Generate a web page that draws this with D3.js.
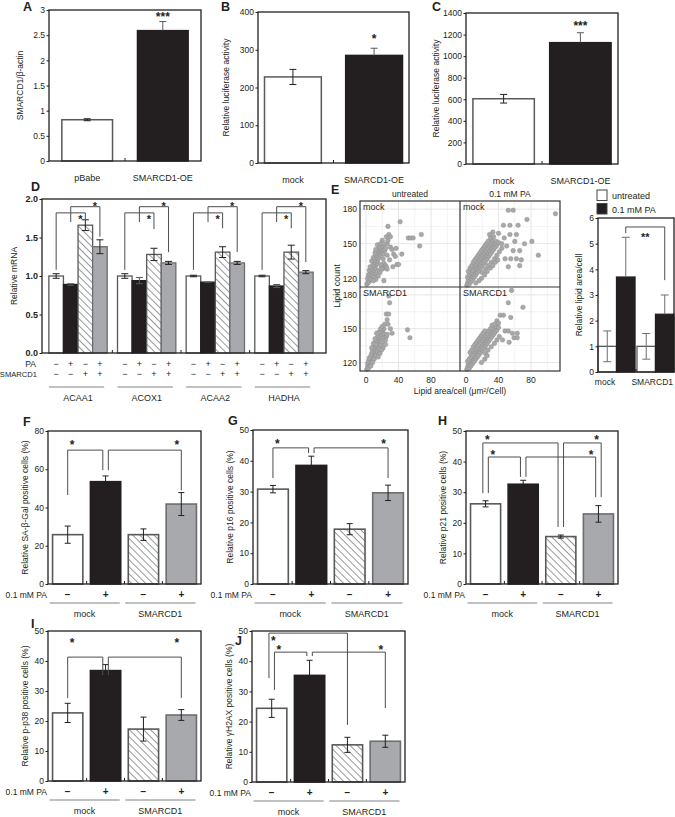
<!DOCTYPE html>
<html><head><meta charset="utf-8">
<script src="https://d3js.org/d3.v7.min.js"></script>
<style>
body{margin:0;background:#fff}
svg text{font-family:"Liberation Sans",Arial,Helvetica,sans-serif;fill:#231f20}
</style></head>
<body><svg id="fig" width="675" height="817"></svg>
<script>
// ================= DATA =================
// A
const aCats = ["pBabe", "SMARCD1-OE"];
const aVals = [0.82, 2.59];
const aErrs = [0.02, 0.18];
const aTicks = [0, 0.5, 1, 1.5, 2, 2.5, 3];
const aSig = "***";
// B
const bCats = ["mock", "SMARCD1-OE"];
const bVals = [228, 285];
const bErrs = [20, 19];
const bTicks = [0, 100, 200, 300, 400];
const bSig = "*";
// C
const cCats = ["mock", "SMARCD1-OE"];
const cVals = [605, 1125];
const cErrs = [40, 92];
const cTicks = [0, 200, 400, 600, 800, 1000, 1200, 1400];
const cSig = "***";
// D
const dGenes = ["ACAA1", "ACOX1", "ACAA2", "HADHA"];
const dConds = ["ctrl", "PA", "SMARCD1", "SMARCD1+PA"];
const dPA = ["−", "+", "−", "+"];
const dSM = ["−", "−", "+", "+"];
const dVals = [[1.00, 0.89, 1.66, 1.38], [1.00, 0.94, 1.28, 1.17], [1.00, 0.92, 1.31, 1.17], [1.00, 0.87, 1.31, 1.05]];
const dErrs = [[0.03, 0.01, 0.07, 0.09], [0.03, 0.04, 0.08, 0.02], [0.01, 0.00, 0.07, 0.02], [0.01, 0.02, 0.09, 0.02]];
const dTicks = [0, 0.5, 1, 1.5, 2];
// comparisons: [from cond, to cond, bracket level, from-leg end, to-leg end]
const dBrackets = [
  [[0, 2, 1.82, 1.08, 1.74], [1, 3, 1.90, 1.70, 1.51]],
  [[0, 2, 1.82, 1.08, 1.61], [1, 3, 1.90, 1.70, 1.31]],
  [[0, 2, 1.82, 1.08, 1.62], [1, 3, 1.90, 1.70, 1.31]],
  [[0, 2, 1.82, 1.08, 1.62], [1, 3, 1.90, 1.70, 1.18]]
];
// E scatter (lipid area/cell, lipid count)
const eCols = ["untreated", "0.1 mM PA"];
const eRows = ["mock", "SMARCD1"];
const eMockUntreated = [
 [1,115],[2,116],[3,118],[4,117],[5,119],[2,120],[4,121],[6,120],[7,122],[3,123],[5,124],[8,123],[9,125],[6,126],[10,127],[4,127],[7,128],[11,129],[8,130],[12,131],[5,130],[9,132],[13,133],[10,134],[14,135],[7,135],[11,136],[15,137],[12,138],[16,139],[9,138],[13,140],[17,141],[14,142],[18,143],[11,142],[15,144],[19,145],[16,146],[12,145],[17,147],[20,148],[14,149],[18,150],[21,137],[22,133],[19,130],[16,127],[13,124],[10,121],[20,128],[23,129],[24,131],[25,130],[26,128],[17,125],[15,122],[12,119],[9,118],[22,118],[18,132],[21,141],[23,144],[24,146],[26,150],[27,153],[25,156],[28,158],[30,147],[32,145],[34,141],[36,139],[38,132],[40,132],[33,130],[29,136],[26,140],[20,153],[22,150],
 [27,165],[42,169],[68,158],[66,148],[52,155],[55,155],[58,155],[30,156],[44,141],[37,146]
];
const eMockPA = [
 [1,114],[2,116],[4,115],[3,118],[6,117],[5,120],[8,119],[2,121],[7,122],[10,121],[4,123],[9,124],[12,123],[6,125],[11,126],[14,125],[3,126],[8,127],[13,128],[16,127],[5,129],[10,130],[15,130],[18,129],[7,131],[12,132],[17,132],[20,131],[9,134],[14,134],[19,134],[22,133],[11,136],[16,136],[21,136],[24,135],[13,138],[18,138],[23,138],[26,137],[15,140],[20,140],[25,140],[28,139],[17,142],[22,142],[27,142],[30,141],[19,144],[24,144],[29,144],[32,143],[21,146],[26,146],[31,146],[34,145],[23,148],[28,148],[33,148],[36,147],[25,150],[30,150],[35,150],[38,149],[27,152],[32,153],[37,152],[40,151],[30,155],[34,156],[29,158],[33,160],[20,125],[24,128],[27,131],[31,134],[35,137],[38,140],[41,143],[44,146],[19,120],[23,123],[26,126],[30,129],[33,131],[36,134],[39,136],[16,118],[12,116],
 [52,179],[58,179],[75,171],[110,176],[46,166],[54,166],[64,166],[40,159],[54,158],[62,158],[81,152],[58,144],[66,144],[48,137],[55,137],[62,137],[68,136],[89,140],[44,150],[50,148],[72,150],[60,152],[47,155],[66,131],[52,130]
];
const eSmUntreated = [
 [1,114],[2,116],[3,115],[4,118],[2,119],[5,120],[6,119],[3,121],[7,122],[5,123],[8,124],[4,124],[9,126],[6,126],[10,127],[7,128],[11,129],[8,130],[12,131],[9,132],[13,133],[10,134],[14,135],[11,136],[15,137],[12,138],[16,139],[13,140],[17,141],[14,142],[18,143],[15,144],[19,145],[20,147],[16,147],[21,149],[22,142],[20,138],[18,135],[16,132],[14,129],[12,126],[10,123],[8,120],[6,117],[23,145],[24,140],[25,143],[26,145],[21,133],[19,131],[17,128],[15,125],[24,136],[22,150],[18,150],[13,146],[11,141],[9,137],[7,133],[20,152],[12,136],
 [28,179],[29,173],[25,163],[28,163],[23,154],[27,154],[51,149],[54,142],[30,150],[32,146],[26,158]
];
const eSmPA = [
 [1,114],[2,116],[4,115],[3,118],[6,117],[5,120],[8,119],[2,121],[7,122],[10,121],[4,123],[9,124],[12,123],[6,125],[11,126],[14,125],[8,127],[13,128],[16,127],[5,129],[10,130],[15,130],[18,129],[7,131],[12,132],[17,132],[20,131],[9,134],[14,134],[19,134],[22,133],[11,136],[16,136],[21,136],[24,135],[13,138],[18,138],[23,138],[26,137],[15,140],[20,140],[25,140],[28,139],[17,142],[22,142],[27,142],[30,141],[19,144],[24,144],[29,144],[32,143],[21,146],[26,146],[31,146],[34,145],[23,148],[28,148],[33,148],[36,147],[30,150],[35,150],[38,149],[32,153],[37,152],[40,151],[24,128],[27,131],[31,134],[35,137],[38,140],[41,143],[19,120],[23,123],[26,126],
 [56,184],[52,173],[70,169],[42,162],[46,162],[38,157],[55,160],[48,148],[52,148],[57,146],[63,146],[59,142],[63,142],[53,138],[45,140],[40,155],[35,154]
];
// E bars
const eBarGroups = ["mock", "SMARCD1"];
const eBarSeries = ["untreated", "0.1 mM PA"];
const eBarVals = [[1.0, 3.7], [1.0, 2.25]];
const eBarErrs = [[0.6, 1.55], [0.5, 0.75]];
const eBarTicks = [0, 1, 2, 3, 4, 5, 6];
const eBarBracket = [[0, 1], [1, 1], 5.65, 5.41, 3.58, "**"];
// F–J
const fjConds = ["mock −", "mock +", "SMARCD1 −", "SMARCD1 +"];
const fjPA = ["−", "+", "−", "+"];
const fjGroups = ["mock", "SMARCD1"];
const fVals = [25.8, 53.5, 25.8, 41.8], fErrs = [4.5, 3.0, 3.0, 6.0];
const gVals = [30.8, 38.5, 17.8, 29.6], gErrs = [1.2, 3.0, 1.8, 2.5];
const hVals = [26.2, 32.6, 15.5, 22.9], hErrs = [1.0, 1.3, 0.5, 2.7];
const iVals = [22.7, 36.8, 17.3, 22.0], iErrs = [3.2, 2.0, 4.0, 1.8];
const jVals = [24.4, 35.3, 12.3, 13.5], jErrs = [3.0, 5.0, 2.5, 2.0];
const fTicks = [0, 20, 40, 60, 80];
const pTicks = [0, 10, 20, 30, 40, 50];
// comparisons: [from, to, level, from-leg end, to-leg end]
const fBr = [[0, 1, 70, 46.5, 59.5], [1, 3, 70, 59.5, 49]];
const gBr = [[0, 1, 44.2, 34.4, 42.5], [1, 3, 44.2, 42.5, 34.4]];
const hBr = [[0, 2, 46.1, 29.7, 18.6], [0, 1, 41.5, 29.7, 35], [1, 3, 41.5, 35, 28.4], [2, 3, 46.1, 18.6, 28.4]];
const iBr = [[0, 1, 41.3, 27.7, 35.3], [1, 3, 41.3, 35.3, 27.7]];
const jBr = [[0, 2, 49.3, 34.4, 18.9], [0, 1, 43, 30.5, 41.7], [1, 3, 43, 41.7, 24.5]];

// ================= DRAW =================
const svg = d3.select("#fig");
const INK = "#231f20";
const STYLE = {
  white: {fill: "#ffffff", stroke: "#58595b"},
  black: {fill: "#231f20", stroke: "#231f20"},
  hatch: {fill: "url(#hatch)", stroke: "#58595b"},
  gray:  {fill: "#a7a9ac", stroke: "#6d6e71"}
};
const fourStyles = ["white", "black", "hatch", "gray"];
const defs = svg.append("defs");
const pat = defs.append("pattern").attr("id", "hatch").attr("patternUnits", "userSpaceOnUse")
  .attr("width", 5).attr("height", 5).attr("patternTransform", "rotate(-45)");
pat.append("rect").attr("width", 5).attr("height", 5).attr("fill", "#fff");
pat.append("line").attr("x1", 0.5).attr("y1", 0).attr("x2", 0.5).attr("y2", 5).attr("stroke", "#8a8c8e").attr("stroke-width", 0.9);

function txt(g, x, y, s, o = {}) {
  const t = g.append("text").attr("x", x).attr("y", y).text(s)
    .attr("font-size", o.size || 9).attr("text-anchor", o.anchor || "start");
  if (o.bold) t.attr("font-weight", "bold");
  if (o.rot) t.attr("transform", `rotate(-90,${x},${y})`);
  return t;
}
function letter(s, x, y) { txt(svg, x, y, s, {size: 12.5, bold: true}); }
function frame(g, b) {
  g.append("rect").attr("x", b[0]).attr("y", b[1]).attr("width", b[2] - b[0]).attr("height", b[3] - b[1])
    .attr("fill", "none").attr("stroke", INK).attr("stroke-width", 1.3);
}
function yAxis(g, y, x0, ticks, size, bold) {
  const a = g.append("g").attr("transform", `translate(${x0},0)`)
    .call(d3.axisLeft(y).tickValues(ticks).tickFormat(d => bold ? d3.format(".1f")(d) : String(d)).tickSize(2.5).tickPadding(1.5));
  a.select(".domain").remove();
  a.selectAll("line").attr("stroke", INK);
  a.selectAll("text").attr("font-size", size).attr("font-weight", bold ? "bold" : null);
}
function errBar(g, cx, y, v, e, color, cap, upOnly) {
  const lo = upOnly ? v : v - e, hi = v + e;
  g.append("line").attr("x1", cx).attr("x2", cx).attr("y1", y(lo)).attr("y2", y(hi)).attr("stroke", color).attr("stroke-width", 1);
  g.append("line").attr("x1", cx - cap).attr("x2", cx + cap).attr("y1", y(hi)).attr("y2", y(hi)).attr("stroke", color).attr("stroke-width", 1);
  if (!upOnly) g.append("line").attr("x1", cx - cap).attr("x2", cx + cap).attr("y1", y(lo)).attr("y2", y(lo)).attr("stroke", color).attr("stroke-width", 1);
}
function bracket(g, xa, xb, yTop, yA, yB) {
  g.append("path").attr("d", `M${xa},${yA}V${yTop}H${xb}V${yB}`).attr("fill", "none")
    .attr("stroke", "#4d4d4f").attr("stroke-width", 1);
}
function star(g, x, yc, s, size = 12) { txt(g, x, yc + size * 0.58, s, {size, anchor: "middle", bold: true}); }
// leg x positions for brackets that share bars
function legX(brs, centers, gap) {
  const legs = {};
  brs.forEach((b, i) => {
    (legs[b[0]] = legs[b[0]] || []).push({i, end: 0, dir: 1, top: b[2]});
    (legs[b[1]] = legs[b[1]] || []).push({i, end: 1, dir: -1, top: b[2]});
  });
  const res = brs.map(() => [0, 0]);
  Object.keys(legs).forEach(bar => {
    const L = legs[bar];
    L.sort((p, q) => p.dir !== q.dir ? p.dir - q.dir : (p.dir > 0 ? q.top - p.top : p.top - q.top));
    L.forEach((l, k) => { res[l.i][l.end] = centers[bar] + (k - (L.length - 1) / 2) * gap; });
  });
  return res;
}

// ---------- A, B, C ----------
function twoBar(cfg) {
  const g = svg.append("g");
  const [x0, y0, x1, y1] = cfg.box;
  const y = d3.scaleLinear().domain([0, cfg.max]).range([y1, y0]);
  const x = d3.scaleBand().domain(cfg.cats).range([x0, x1]).paddingInner(cfg.pi).paddingOuter(cfg.po);
  const bw = x.bandwidth();
  const st = ["white", "black"];
  g.selectAll("rect.bar").data(cfg.cats).join("rect").attr("class", "bar")
    .attr("x", c => x(c)).attr("width", bw)
    .attr("y", (c, i) => y(cfg.vals[i])).attr("height", (c, i) => y(0) - y(cfg.vals[i]))
    .attr("fill", (c, i) => STYLE[st[i]].fill).attr("stroke", (c, i) => STYLE[st[i]].stroke).attr("stroke-width", 1.5);
  cfg.vals.forEach((v, i) => errBar(g, x(cfg.cats[i]) + bw / 2, y, v, cfg.errs[i], i === 0 ? INK : "#58595b", 3.5, i === 1));
  frame(g, cfg.box);
  const mid = (x(cfg.cats[0]) + bw + x(cfg.cats[1])) / 2;
  g.append("line").attr("x1", mid).attr("x2", mid).attr("y1", y1).attr("y2", y1 - 3).attr("stroke", INK);
  yAxis(g, y, x0, cfg.ticks, 8.5, false);
  cfg.cats.forEach(c => txt(g, x(c) + bw / 2, y1 + 20, c, {size: 9, anchor: "middle"}));
  star(g, x(cfg.cats[1]) + bw / 2, y(cfg.vals[1] + cfg.errs[1]) - cfg.sdy, cfg.sig);
  txt(g, cfg.lx, (y0 + y1) / 2, cfg.label, {size: 8.5, anchor: "middle", rot: true});
}
twoBar({box: [49, 10, 201, 161], max: 3, cats: aCats, vals: aVals, errs: aErrs, ticks: aTicks, pi: 0.33, po: 0.17, sig: aSig, sdy: 8, label: "SMARCD1/β-actin", lx: 23});
twoBar({box: [258, 12, 409, 163], max: 400, cats: bCats, vals: bVals, errs: bErrs, ticks: bTicks, pi: 0.3, po: 0.08, sig: bSig, sdy: 12, label: "Relative luciferase activity", lx: 229});
twoBar({box: [466, 13, 618, 164], max: 1400, cats: cCats, vals: cVals, errs: cErrs, ticks: cTicks, pi: 0.2, po: 0.09, sig: cSig, sdy: 10, label: "Relative luciferase activity", lx: 439});
letter("A", 23, 11); letter("B", 221, 11); letter("C", 432, 10.5);

// ---------- D ----------
(function () {
  const g = svg.append("g");
  const box = [42, 199, 326, 353];
  const y = d3.scaleLinear().domain([0, 2]).range([box[3], box[1]]);
  const xg = d3.scaleBand().domain(dGenes).range([42, 320]).paddingInner(0.15).paddingOuter(0.1);
  const xc = d3.scaleBand().domain(dConds).range([0, xg.bandwidth()]);
  const bw = xc.bandwidth();
  dGenes.forEach((gene, gi) => {
    const gg = g.append("g");
    gg.selectAll("rect").data(dConds).join("rect")
      .attr("x", c => xg(gene) + xc(c)).attr("width", bw)
      .attr("y", (c, i) => y(dVals[gi][i])).attr("height", (c, i) => y(0) - y(dVals[gi][i]))
      .attr("fill", (c, i) => STYLE[fourStyles[i]].fill).attr("stroke", (c, i) => STYLE[fourStyles[i]].stroke).attr("stroke-width", 1.3);
    const centers = dConds.map(c => xg(gene) + xc(c) + bw / 2);
    dVals[gi].forEach((v, i) => errBar(gg, centers[i], y, v, dErrs[gi][i], i === 1 ? "#58595b" : INK, 3.5, false));
    const lx = legX(dBrackets[gi], centers, 5);
    dBrackets[gi].forEach((b, k) => {
      bracket(gg, lx[k][0], lx[k][1], y(b[2]), y(b[3]), y(b[4]));
      star(gg, lx[k][1] - 5, y(b[2]) + (k === 0 ? 4 : -3), "*", 11);
    });
    centers.forEach((cx, i) => {
      txt(gg, cx, 367, dPA[i], {size: 9, anchor: "middle"});
      txt(gg, cx, 377, dSM[i], {size: 9, anchor: "middle"});
    });
    gg.append("line").attr("x1", xg(gene)).attr("x2", xg(gene) + xg.bandwidth() - 3).attr("y1", 387).attr("y2", 387)
      .attr("stroke", "#808285").attr("stroke-width", 1.2);
    txt(gg, xg(gene) + xg.bandwidth() / 2, 401, gene, {size: 9, anchor: "middle"});
    if (gi > 0) {
      const sx = (xg(dGenes[gi - 1]) + xg.bandwidth() + xg(gene)) / 2;
      g.append("line").attr("x1", sx).attr("x2", sx).attr("y1", box[3]).attr("y2", box[3] - 3).attr("stroke", INK);
    }
  });
  frame(g, box);
  yAxis(g, y, box[0], dTicks, 9, true);
  txt(g, 36, 367, "PA", {size: 8.5, anchor: "end"});
  txt(g, 37, 377, "SMARCD1", {size: 7.6, anchor: "end"});
  txt(g, 17, 276, "Relative mRNA", {size: 8.5, anchor: "middle", rot: true});
  letter("D", 31, 191);
})();

// ---------- E scatter ----------
(function () {
  const g = svg.append("g");
  const colR = [[360, 460], [460, 560]];
  const rowR = [[287, 201], [371, 287]];
  const data = [[eMockUntreated, eMockPA], [eSmUntreated, eSmPA]];
  data.forEach((row, ri) => row.forEach((pts, ci) => {
    const x = d3.scaleLinear().domain([-7.4, 115.6]).range(colR[ci]);
    const y = d3.scaleLinear().domain([112.5, 187]).range(rowR[ri]);
    const p = g.append("g");
    [20, 60, 100].forEach(v => p.append("line").attr("x1", x(v)).attr("x2", x(v)).attr("y1", rowR[ri][0]).attr("y2", rowR[ri][1]).attr("stroke", "#f3f3f3"));
    [135, 165].forEach(v => p.append("line").attr("y1", y(v)).attr("y2", y(v)).attr("x1", colR[ci][0]).attr("x2", colR[ci][1]).attr("stroke", "#f3f3f3"));
    [0, 40, 80].forEach(v => p.append("line").attr("x1", x(v)).attr("x2", x(v)).attr("y1", rowR[ri][0]).attr("y2", rowR[ri][1]).attr("stroke", "#e6e6e6"));
    [120, 150, 180].forEach(v => p.append("line").attr("y1", y(v)).attr("y2", y(v)).attr("x1", colR[ci][0]).attr("x2", colR[ci][1]).attr("stroke", "#e6e6e6"));
    p.selectAll("circle").data(pts).join("circle")
      .attr("cx", d => x(d[0])).attr("cy", d => y(d[1])).attr("r", 2.3)
      .attr("fill", "#a8a8a8").attr("stroke", "#8c8c8c").attr("stroke-width", 0.4);
    txt(p, colR[ci][0] + 3, rowR[ri][1] + 9, eRows[ri], {size: 9});
    if (ci === 0) [120, 150, 180].forEach(v => txt(p, 357, y(v) + 3.3, String(v), {size: 8.5, anchor: "end"}));
    if (ri === 1) [0, 40, 80].forEach(v => txt(p, x(v), 383, String(v), {size: 8.5, anchor: "middle"}));
    if (ri === 0) txt(p, (colR[ci][0] + colR[ci][1]) / 2, 197, eCols[ci], {size: 8.5, anchor: "middle"});
  }));
  g.append("rect").attr("x", 360).attr("y", 201).attr("width", 200).attr("height", 170).attr("fill", "none").attr("stroke", "#333").attr("stroke-width", 1.2);
  g.append("line").attr("x1", 460).attr("x2", 460).attr("y1", 201).attr("y2", 371).attr("stroke", "#333").attr("stroke-width", 1.2);
  g.append("line").attr("x1", 360).attr("x2", 560).attr("y1", 287).attr("y2", 287).attr("stroke", "#333").attr("stroke-width", 1.2);
  txt(g, 340, 286, "Lipid count", {size: 9, anchor: "middle", rot: true});
  txt(g, 460, 394, "Lipid area/cell (μm²/Cell)", {size: 8.5, anchor: "middle"});
  letter("E", 331, 194);
})();

// ---------- E bars ----------
(function () {
  const g = svg.append("g");
  const box = [598, 218, 674, 372];
  const y = d3.scaleLinear().domain([0, 6]).range([box[3], box[1]]);
  const xg = d3.scaleBand().domain(eBarGroups).range([box[0], box[2]]).paddingInner(0.05);
  const xs = d3.scaleBand().domain(eBarSeries).range([0, xg.bandwidth()]);
  const bw = xs.bandwidth();
  const st = ["white", "black"];
  eBarGroups.forEach((grp, gi) => {
    eBarSeries.forEach((s, si) => {
      const v = eBarVals[gi][si];
      g.append("rect").attr("x", xg(grp) + xs(s)).attr("width", bw).attr("y", y(v)).attr("height", y(0) - y(v))
        .attr("fill", STYLE[st[si]].fill).attr("stroke", STYLE[st[si]].stroke).attr("stroke-width", 1.3);
      errBar(g, xg(grp) + xs(s) + bw / 2, y, v, eBarErrs[gi][si], "#6d6e71", 4, si === 1);
    });
  });
  txt(g, 605, 385, eBarGroups[0], {size: 8.5, anchor: "middle"});
  txt(g, 673, 385, eBarGroups[1], {size: 8.5, anchor: "end"});
  const b = eBarBracket;
  const xa = xg(eBarGroups[b[0][0]]) + xs(eBarSeries[b[0][1]]) + bw / 2;
  const xb = xg(eBarGroups[b[1][0]]) + xs(eBarSeries[b[1][1]]) + bw / 2;
  bracket(g, xa, xb, y(b[2]), y(b[3]), y(b[4]));
  star(g, (xa + xb) / 2, y(b[2]) + 8, b[5], 11);
  const sx = xg(eBarGroups[1]) - 1;
  g.append("line").attr("x1", sx).attr("x2", sx).attr("y1", box[3]).attr("y2", box[3] - 3).attr("stroke", INK);
  frame(g, box);
  yAxis(g, y, box[0], eBarTicks, 8.5, false);
  txt(g, 582, 295, "Relative lipid area/cell", {size: 8.5, anchor: "middle", rot: true});
  // legend
  eBarSeries.forEach((s, i) => {
    g.append("rect").attr("x", 597).attr("y", 190 + i * 13.5).attr("width", 10).attr("height", 10.5)
      .attr("fill", STYLE[st[i]].fill).attr("stroke", "#444").attr("stroke-width", 1);
    txt(g, 612, 199 + i * 13.5, s, {size: 9});
  });
})();

// ---------- F–J ----------
function fjPanel(cfg) {
  const g = svg.append("g");
  const [x0, y0, x1, y1] = cfg.box;
  const y = d3.scaleLinear().domain([0, cfg.max]).range([y1, y0]);
  const x = d3.scaleBand().domain(fjConds).range([x0, x1]).paddingInner(0.2).paddingOuter(0.12);
  const bw = x.bandwidth();
  const centers = fjConds.map(c => x(c) + bw / 2);
  g.selectAll("rect.bar").data(fjConds).join("rect").attr("class", "bar")
    .attr("x", c => x(c)).attr("width", bw)
    .attr("y", (c, i) => y(cfg.vals[i])).attr("height", (c, i) => y(0) - y(cfg.vals[i]))
    .attr("fill", (c, i) => STYLE[fourStyles[i]].fill).attr("stroke", (c, i) => STYLE[fourStyles[i]].stroke).attr("stroke-width", 1.6);
  cfg.vals.forEach((v, i) => errBar(g, centers[i], y, v, cfg.errs[i], INK, 3, false));
  frame(g, cfg.box);
  for (let i = 1; i < 4; i++) {
    const sx = (x(fjConds[i - 1]) + bw + x(fjConds[i])) / 2;
    g.append("line").attr("x1", sx).attr("x2", sx).attr("y1", y1).attr("y2", y1 - 3).attr("stroke", INK);
  }
  yAxis(g, y, x0, cfg.ticks, 8.5, false);
  const lx = legX(cfg.br, centers, 5.5);
  cfg.br.forEach((b, k) => {
    bracket(g, lx[k][0], lx[k][1], y(b[2]), y(b[3]), y(b[4]));
    const s = cfg.stars[k];
    star(g, s[0] === "a" ? lx[k][0] + 4.5 : lx[k][1] - 4.5, y(b[2]) + s[1], "*", 12);
  });
  txt(g, x0 - 1, y1 + 14, "0.1 mM PA", {size: 8.5, anchor: "end"});
  centers.forEach((cx, i) => txt(g, cx, y1 + 14, fjPA[i], {size: 10, anchor: "middle", bold: true}));
  fjGroups.forEach((grp, k) => {
    const a = x(fjConds[2 * k]) - 3, e = x(fjConds[2 * k + 1]) + bw - 1;
    g.append("line").attr("x1", a).attr("x2", e).attr("y1", y1 + 19).attr("y2", y1 + 19).attr("stroke", "#808285").attr("stroke-width", 1.2);
    txt(g, (a + e) / 2, y1 + 33, grp, {size: 9, anchor: "middle"});
  });
  txt(g, cfg.lx, (y0 + y1) / 2, cfg.label, {size: 8.5, anchor: "middle", rot: true});
  letter(cfg.letter, cfg.lp[0], cfg.lp[1]);
}
fjPanel({box: [48, 431, 201, 584], max: 80, ticks: fTicks, vals: fVals, errs: fErrs, br: fBr, stars: [["a", -8], ["b", -8]], label: "Relative SA-β-Gal positive cells (%)", lx: 28, letter: "F", lp: [23, 426]});
fjPanel({box: [253, 430, 408, 584], max: 50, ticks: pTicks, vals: gVals, errs: gErrs, br: gBr, stars: [["a", -7], ["b", -7]], label: "Relative p16 positive cells (%)", lx: 233, letter: "G", lp: [228, 425]});
fjPanel({box: [466, 431, 618, 584], max: 50, ticks: pTicks, vals: hVals, errs: hErrs, br: hBr, stars: [["a", -6], ["a", -5], ["b", -5], ["b", -6]], label: "Relative p21 positive cells (%)", lx: 446, letter: "H", lp: [438, 425]});
fjPanel({box: [48, 631, 201, 781], max: 50, ticks: pTicks, vals: iVals, errs: iErrs, br: iBr, stars: [["a", -17], ["b", -17]], label: "Relative p-p38 positive cells (%)", lx: 28, letter: "I", lp: [31, 628]});
fjPanel({box: [252, 631, 405, 782], max: 50, ticks: pTicks, vals: jVals, errs: jErrs, br: jBr, stars: [["a", 5], ["a", -5], ["b", -5]], label: "Relative γH2AX positive cells (%)", lx: 232, letter: "J", lp: [235, 645]});
</script>
</body></html>
